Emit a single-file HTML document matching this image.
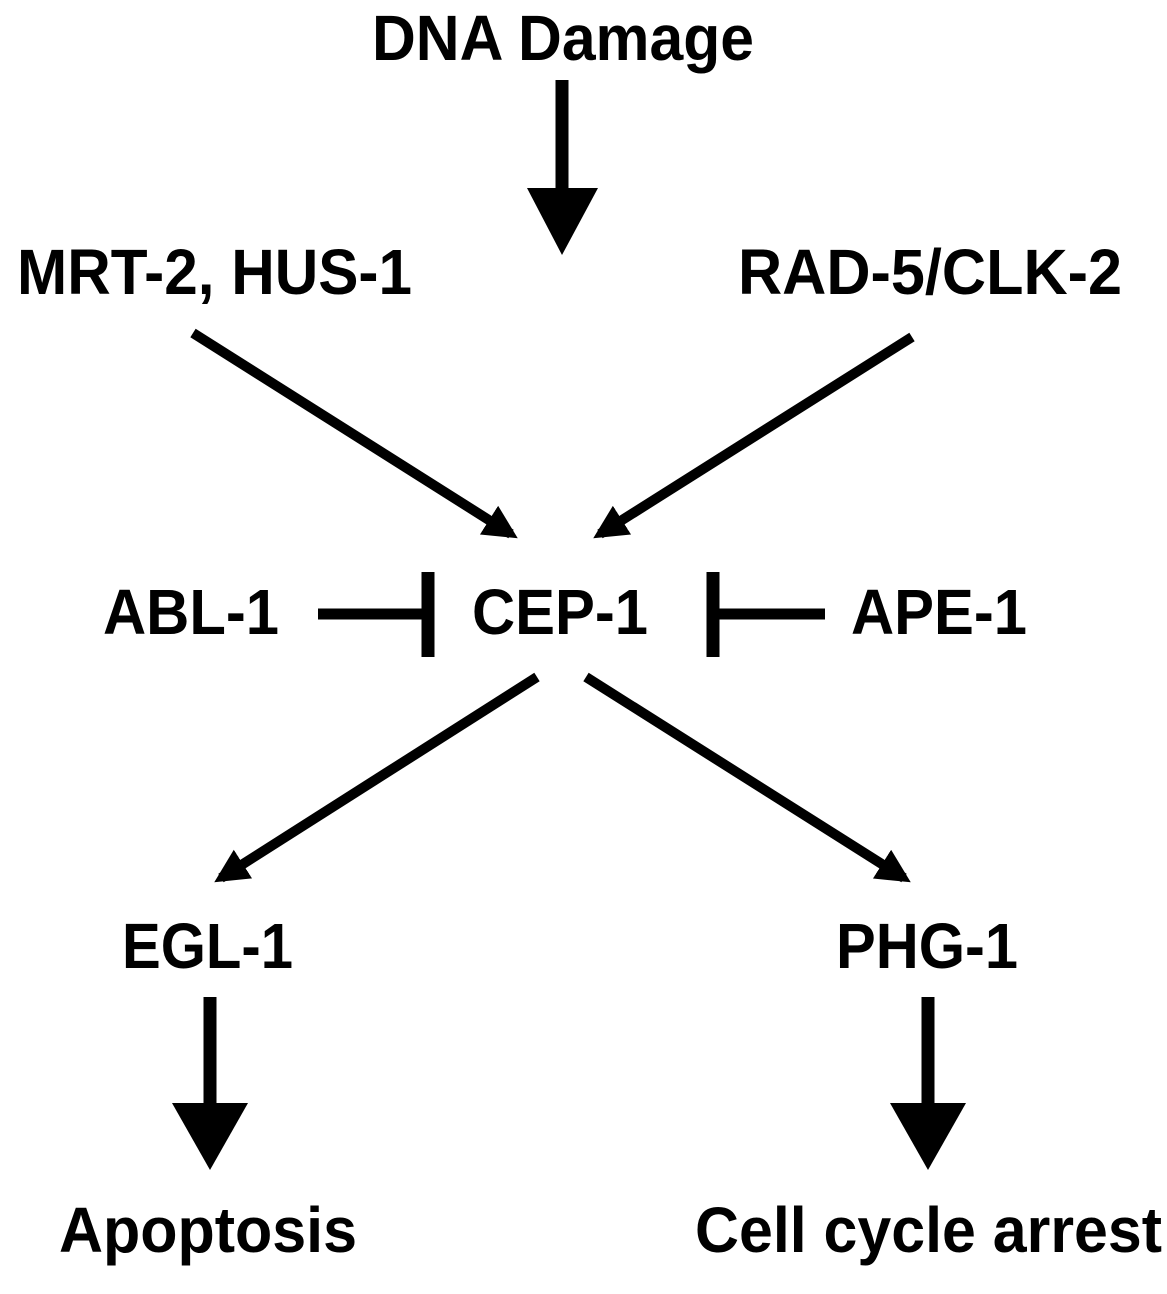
<!DOCTYPE html>
<html><head><meta charset="utf-8"><style>
html,body{margin:0;padding:0;background:#fff;}
svg{display:block;}
text{font-family:"Liberation Sans",Arial,sans-serif;font-weight:bold;font-size:64px;fill:#000;}
</style></head><body>
<svg width="1167" height="1294" viewBox="0 0 1167 1294">
<defs>
<marker id="ah" markerWidth="3.4" markerHeight="3.4" refX="2.6" refY="1.7" orient="auto" markerUnits="strokeWidth">
<path d="M0,0 L3.4,1.7 L0,3.4 Z" fill="#000"/>
</marker>
</defs>
<text x="372" y="60" font-size="66" textLength="382" lengthAdjust="spacingAndGlyphs">DNA Damage</text>
<g>
<line x1="562" y1="80" x2="562" y2="190" stroke="#000" stroke-width="13"/>
<polygon points="527,188 598,188 562,255" fill="#000"/>
</g>
<text x="17" y="294" textLength="395" lengthAdjust="spacingAndGlyphs">MRT-2, HUS-1</text>
<text x="738" y="294" textLength="384" lengthAdjust="spacingAndGlyphs">RAD-5/CLK-2</text>
<line x1="193" y1="333" x2="511" y2="534" stroke="#000" stroke-width="10" marker-end="url(#ah)"/>
<line x1="912" y1="337" x2="600" y2="534" stroke="#000" stroke-width="10" marker-end="url(#ah)"/>
<text x="103" y="634" textLength="176" lengthAdjust="spacingAndGlyphs">ABL-1</text>
<text x="472" y="634" textLength="176" lengthAdjust="spacingAndGlyphs">CEP-1</text>
<text x="851" y="634" textLength="176" lengthAdjust="spacingAndGlyphs">APE-1</text>
<g>
<line x1="318" y1="614" x2="428" y2="614" stroke="#000" stroke-width="11"/>
<line x1="428" y1="572" x2="428" y2="657" stroke="#000" stroke-width="13"/>
</g>
<g>
<line x1="713" y1="614" x2="825" y2="614" stroke="#000" stroke-width="11"/>
<line x1="713" y1="572" x2="713" y2="657" stroke="#000" stroke-width="13"/>
</g>
<line x1="537" y1="677" x2="221" y2="878" stroke="#000" stroke-width="10" marker-end="url(#ah)"/>
<line x1="586" y1="677" x2="904" y2="878" stroke="#000" stroke-width="10" marker-end="url(#ah)"/>
<text x="122" y="968" textLength="171" lengthAdjust="spacingAndGlyphs">EGL-1</text>
<text x="836" y="968" textLength="182" lengthAdjust="spacingAndGlyphs">PHG-1</text>
<g>
<line x1="210" y1="997" x2="210" y2="1105" stroke="#000" stroke-width="13"/>
<polygon points="172,1103 248,1103 210,1170" fill="#000"/>
</g>
<g>
<line x1="928" y1="997" x2="928" y2="1105" stroke="#000" stroke-width="13"/>
<polygon points="890,1103 966,1103 928,1170" fill="#000"/>
</g>
<text x="59" y="1252" textLength="298" lengthAdjust="spacingAndGlyphs">Apoptosis</text>
<text x="695" y="1252" textLength="467" lengthAdjust="spacingAndGlyphs">Cell cycle arrest</text>
</svg>
</body></html>
